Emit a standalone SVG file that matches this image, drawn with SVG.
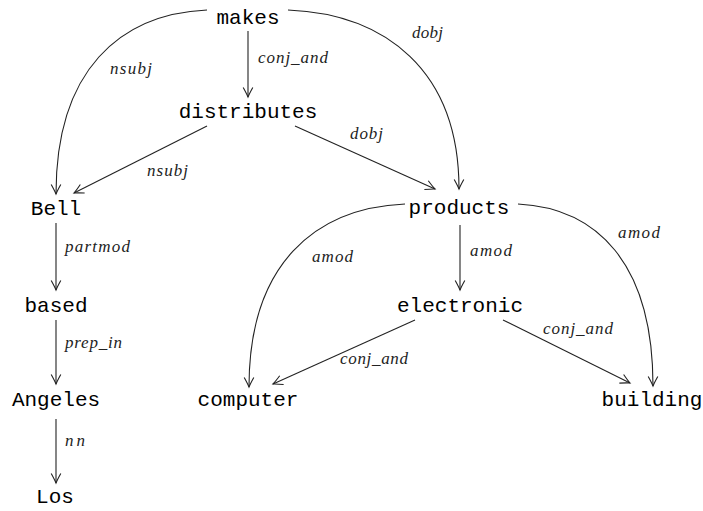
<svg xmlns="http://www.w3.org/2000/svg" width="703" height="511" viewBox="0 0 703 511">
<defs>
<style>
.n{font-family:"Liberation Mono","DejaVu Sans Mono",monospace;font-size:21px;fill:#000;text-anchor:middle}
.l{font-family:"Liberation Serif","DejaVu Serif",serif;font-style:italic;font-size:17px;fill:#222}
.e{fill:none;stroke:#222;stroke-width:1.1;marker-end:url(#ah)}
</style>
<marker id="ah" markerUnits="userSpaceOnUse" markerWidth="14" markerHeight="14" viewBox="-11 -7 13 14" refX="0" refY="0" orient="auto">
<path d="M-9.5,-4.8 Q-3,-1.2 0,0 Q-3,1.2 -9.5,4.8" fill="none" stroke="#222" stroke-width="1.1"/>
</marker>
</defs>
<rect width="703" height="511" fill="#fff"/>
<g id="edges">
<path class="e" d="M207,10 C120,14 56,70 56,194"/>
<path class="e" d="M288,10 C385,14 459,70 459,189"/>
<path class="e" d="M248,31 L248,97"/>
<path class="e" d="M207,126 L74,193"/>
<path class="e" d="M295,126 L435,189"/>
<path class="e" d="M405,204 C315,208 249,264 249,387"/>
<path class="e" d="M518,204 C596,208 653,262 653,386"/>
<path class="e" d="M460,225 L460,290"/>
<path class="e" d="M415,320 L273,384"/>
<path class="e" d="M503,320 L630,383"/>
<path class="e" d="M56,223 L56,290"/>
<path class="e" d="M56,320 L56,384"/>
<path class="e" d="M56,419 L56,483"/>
<text class="l" x="110" y="74" textLength="42">nsubj</text>
<text class="l" x="258" y="63" textLength="70">conj_and</text>
<text class="l" x="147" y="176" textLength="41">nsubj</text>
<text class="l" x="350" y="139" textLength="33">dobj</text>
<text class="l" x="412" y="38" textLength="31">dobj</text>
<text class="l" x="65" y="252" textLength="65">partmod</text>
<text class="l" x="65" y="348" textLength="57">prep_in</text>
<text class="l" x="65" y="446" textLength="20">nn</text>
<text class="l" x="312" y="262" textLength="41">amod</text>
<text class="l" x="470" y="256" textLength="42">amod</text>
<text class="l" x="618" y="238" textLength="42">amod</text>
<text class="l" x="340" y="364" textLength="68">conj_and</text>
<text class="l" x="543" y="334" textLength="70">conj_and</text>
</g>
<g id="makes"><text class="n" x="248" y="24">makes</text></g>
<g id="distributes"><text class="n" x="248" y="118">distributes</text></g>
<g id="Bell"><text class="n" x="56" y="215">Bell</text></g>
<g id="based"><text class="n" x="56" y="312">based</text></g>
<g id="Angeles"><text class="n" x="56" y="406">Angeles</text></g>
<g id="Los"><text class="n" x="55" y="503">Los</text></g>
<g id="products"><text class="n" x="459" y="214">products</text></g>
<g id="electronic"><text class="n" x="460" y="312">electronic</text></g>
<g id="computer"><text class="n" x="248" y="406">computer</text></g>
<g id="building"><text class="n" x="652" y="406">building</text></g>
</svg>
